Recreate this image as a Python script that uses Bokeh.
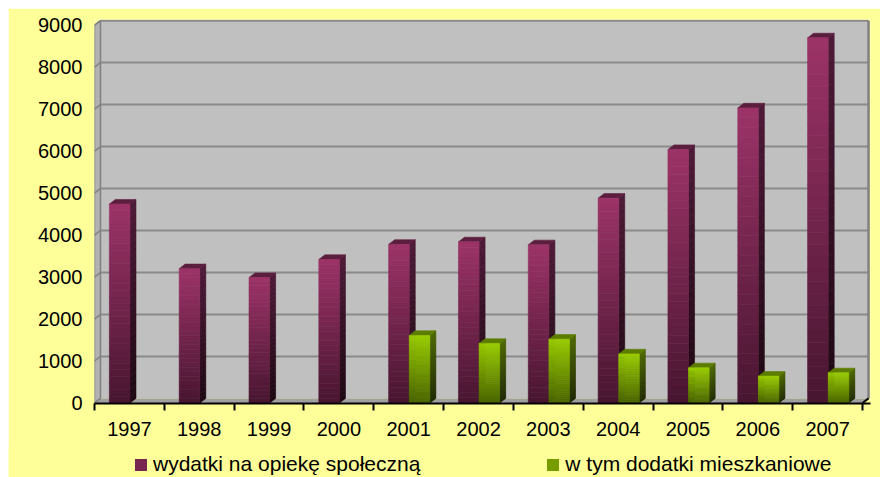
import numpy as np
from bokeh.plotting import figure
from bokeh.layouts import column
from bokeh.models import ColumnDataSource, FixedTicker, Range1d, Legend, LegendItem
from bokeh.embed import file_html
from bokeh.resources import INLINE

# ---------------- data ----------------
years = ["1997", "1998", "1999", "2000", "2001", "2002", "2003", "2004", "2005", "2006", "2007"]
spending = [4740, 3200, 2990, 3420, 3780, 3840, 3770, 4880, 6040, 7030, 8700]
housing = [None, None, None, None, 1610, 1420, 1520, 1170, 840, 640, 720]
y_ticks = [0, 1000, 2000, 3000, 4000, 5000, 6000, 7000, 8000, 9000]
series_names = ["wydatki na opiekę społeczną", "w tym dodatki mieszkaniowe"]

# ---------------- style ----------------
FONT = "Liberation Sans"
BG = "#FFFF99"
DX = 0.086      # 3-D depth, category units
DY = 110        # 3-D depth, value units
BAR_W = 0.295
N = 30          # gradient slices

def hex2rgb(h):
    h = h.lstrip("#")
    return np.array([int(h[i:i + 2], 16) for i in (0, 2, 4)], dtype=float)

def lerp(c_bot, c_top, t):
    a, b = hex2rgb(c_bot), hex2rgb(c_top)
    c = a + (b - a) * t
    return "#%02x%02x%02x" % tuple(int(round(v)) for v in c)

n_cat = len(years)
p = figure(width=872, height=440, output_backend="svg", toolbar_location=None,
           x_range=Range1d(0, 11.114), y_range=Range1d(-12, 9137.5))
p.margin = (8, 0, 0, 8)
p.frame_align = False
p.min_border_left = 86
p.min_border_right = 10
p.min_border_top = 11
p.min_border_bottom = 45
p.background_fill_color = BG
p.border_fill_color = BG
p.outline_line_color = None
p.grid.visible = False

# ---------------- walls & floor ----------------
top_v = y_ticks[-1]
p.quad(left=DX, right=n_cat + DX, bottom=DY, top=top_v + DY,
       fill_color="#C0C0C0", line_color=None)
p.patch([0, DX, DX, 0], [0, DY, top_v + DY, top_v],
        fill_color="#B2B2B2", line_color="#808080", line_width=1.5)
p.patch([0, DX, n_cat + DX, n_cat], [0, DY, DY, 0],
        fill_color="#A0A0A0", line_color=None)
gv = y_ticks[1:]
p.segment(x0=[DX] * len(gv), y0=[v + DY for v in gv], x1=[n_cat + DX] * len(gv),
          y1=[v + DY for v in gv], line_color="#8A8A8A", line_width=2)
p.segment(x0=[0] * len(y_ticks), y0=y_ticks, x1=[DX] * len(y_ticks),
          y1=[v + DY for v in y_ticks], line_color="#808080", line_width=1.5)
p.segment(x0=[n_cat + DX], y0=[DY], x1=[n_cat + DX], y1=[top_v + DY],
          line_color="#808080", line_width=2.5)
p.segment(x0=[n_cat], y0=[0], x1=[n_cat + DX], y1=[DY],
          line_color="black", line_width=2)

# ---------------- bars ----------------
def draw_series(vals, off, front_top, front_bot, side_top, side_bot, top_col):
    L, R, B, T, C = [], [], [], [], []
    sxs, sys_, scs = [], [], []
    txs, tys = [], []
    for i, v in enumerate(vals):
        if v is None:
            continue
        x0 = i + off
        x1 = x0 + BAR_W
        for k in range(N):
            b = v * k / N
            t = v * (k + 1) / N
            f = (k + 0.5) / N
            L.append(x0); R.append(x1); B.append(b); T.append(t)
            C.append(lerp(front_bot, front_top, f))
            sxs.append([x1, x1 + DX, x1 + DX, x1])
            sys_.append([b, b + DY, t + DY, t])
            scs.append(lerp(side_bot, side_top, f))
        txs.append([x0, x0 + DX, x1 + DX, x1])
        tys.append([v, v + DY, v + DY, v])
    p.patches(xs=sxs, ys=sys_, fill_color=scs, line_color=scs, line_width=0.6)
    p.patches(xs=txs, ys=tys, fill_color=top_col, line_color=top_col, line_width=0.6)
    src = ColumnDataSource(dict(l=L, r=R, b=B, t=T, c=C))
    p.quad(left="l", right="r", bottom="b", top="t", fill_color="c",
           line_color="c", line_width=0.6, source=src)

PURPLE = ("#9C3468", "#481530", "#4E1A38", "#1C0711", "#5C1E3E")
GREEN = ("#99CC00", "#4A6400", "#4C6600", "#1C2600", "#5C7C00")
draw_series(spending, 0.213, *PURPLE)
draw_series(housing, 0.508, *GREEN)

# ---------------- axes ----------------
xa = p.xaxis[0]
centers = [i + 0.5 for i in range(n_cat)]
xa.ticker = FixedTicker(ticks=centers, minor_ticks=list(range(n_cat + 1)))
xa.major_label_overrides = {c: y for c, y in zip(centers, years)}
xa.major_tick_line_color = None
xa.major_tick_out = 0
xa.major_tick_in = 0
xa.minor_tick_line_color = "black"
xa.minor_tick_line_width = 2
xa.minor_tick_out = 7
xa.minor_tick_in = 0
xa.axis_line_color = "black"
xa.axis_line_width = 2
xa.major_label_standoff = 11
xa.major_label_text_font = FONT
xa.major_label_text_font_size = "20px"
xa.major_label_text_color = "black"

ya = p.yaxis[0]
ya.ticker = FixedTicker(ticks=y_ticks)
ya.axis_line_color = None
ya.major_tick_line_color = None
ya.minor_tick_line_color = None
ya.major_tick_out = 0
ya.major_tick_in = 0
ya.major_label_standoff = 12
ya.major_label_text_font = FONT
ya.major_label_text_font_size = "20px"
ya.major_label_text_color = "black"

# ---------------- legend strip ----------------
p2 = figure(width=872, height=30, output_backend="svg", toolbar_location=None,
            x_axis_location=None, y_axis_location=None,
            x_range=Range1d(0, 1), y_range=Range1d(0, 1))
p2.margin = (-1, 0, 0, 8)
p2.frame_align = False
p2.min_border = 0
p2.min_border_left = 0
p2.min_border_right = 0
p2.min_border_top = 0
p2.min_border_bottom = 0
p2.background_fill_color = BG
p2.border_fill_color = BG
p2.outline_line_color = None
p2.grid.visible = False
lr1 = p2.quad(left=[2], right=[2], bottom=[2], top=[2],
              fill_color=lerp(PURPLE[1], PURPLE[0], 0.55), line_color=None)
lr2 = p2.quad(left=[2], right=[2], bottom=[2], top=[2],
              fill_color=lerp(GREEN[1], GREEN[0], 0.55), line_color=None)
legend = Legend(items=[LegendItem(label=series_names[0], renderers=[lr1]),
                       LegendItem(label=series_names[1], renderers=[lr2])],
                orientation="horizontal", location=(125, 1),
                glyph_width=15, glyph_height=15, label_standoff=5, spacing=125,
                padding=0, margin=0, border_line_color=None, background_fill_alpha=0,
                label_text_font=FONT, label_text_font_size="21px",
                label_text_color="black", label_height=12)
p2.add_layout(legend, "center")

layout = column(p, p2, spacing=0)
open("out.html", "w").write(file_html(layout, INLINE))
